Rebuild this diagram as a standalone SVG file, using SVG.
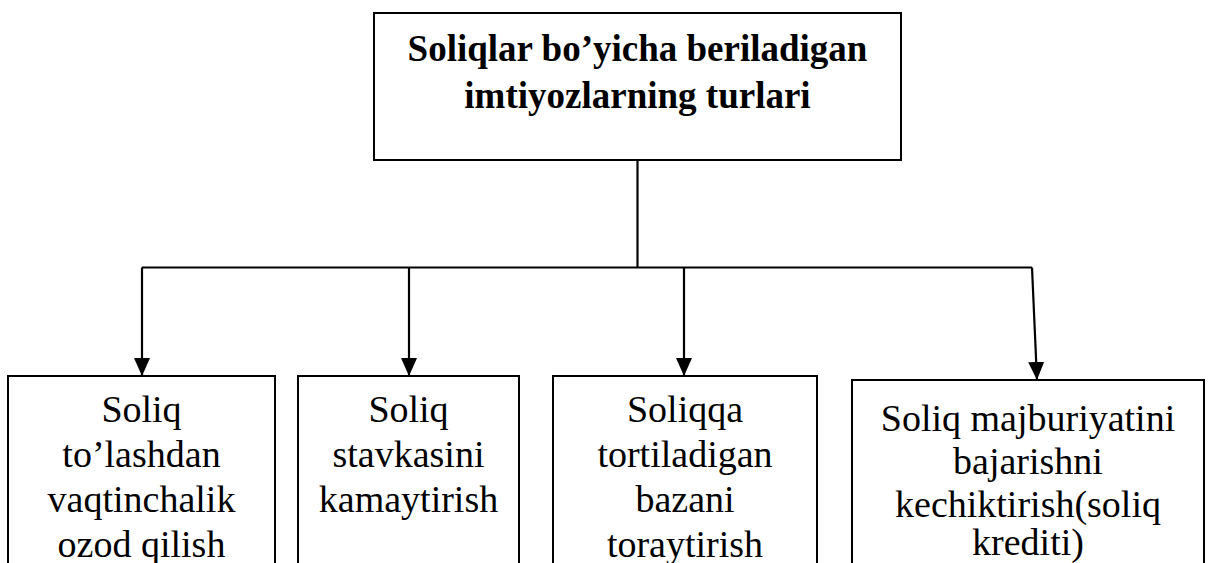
<svg xmlns="http://www.w3.org/2000/svg" width="1212" height="563" viewBox="0 0 1212 563">
<style>
.box{fill:#fff;stroke:#000;stroke-width:2}
.t{font-family:"Liberation Serif","Times New Roman",serif;font-size:38px;fill:#000;text-anchor:middle}
.tb{font-family:"Liberation Serif","Times New Roman",serif;font-size:37px;font-weight:bold;fill:#000;text-anchor:middle}
.ln{fill:none;stroke:#000;stroke-width:2.2}
</style>
<defs>
<marker id="arr" markerWidth="18" markerHeight="16" refX="18" refY="8" orient="auto" markerUnits="userSpaceOnUse" viewBox="0 0 18 16">
<path d="M0,0 L18,8 L0,16 Z" fill="#000"/>
</marker>
</defs>
<rect width="1212" height="563" fill="#fff"/>
<g id="connectors">
<path class="ln" d="M637.5,160 V267.5"/>
<path class="ln" d="M142,267.5 H1032"/>
<path class="ln" d="M142,267.5 V376" marker-end="url(#arr)"/>
<path class="ln" d="M409,267.5 V376" marker-end="url(#arr)"/>
<path class="ln" d="M684,267.5 V376" marker-end="url(#arr)"/>
<path class="ln" d="M1032,267.5 L1037,380" marker-end="url(#arr)"/>
</g>
<g id="root">
<rect class="box" x="374" y="13" width="527" height="147"/>
<text class="tb" x="637.5" y="61">Soliqlar bo’yicha beriladigan</text>
<text class="tb" x="637.5" y="108">imtiyozlarning turlari</text>
</g>
<g id="n1">
<rect class="box" x="8" y="376" width="267" height="230"/>
<text class="t" x="141.5" y="422">Soliq</text>
<text class="t" x="141.5" y="467">to’lashdan</text>
<text class="t" x="141.5" y="512">vaqtinchalik</text>
<text class="t" x="141.5" y="557">ozod qilish</text>
</g>
<g id="n2">
<rect class="box" x="298" y="376" width="221" height="230"/>
<text class="t" x="408.5" y="422">Soliq</text>
<text class="t" x="408.5" y="467">stavkasini</text>
<text class="t" x="408.5" y="512">kamaytirish</text>
</g>
<g id="n3">
<rect class="box" x="553" y="376" width="264" height="230"/>
<text class="t" x="685" y="422">Soliqqa</text>
<text class="t" x="685" y="467">tortiladigan</text>
<text class="t" x="685" y="512">bazani</text>
<text class="t" x="685" y="557">toraytirish</text>
</g>
<g id="n4">
<rect class="box" x="852" y="380" width="352" height="230"/>
<text class="t" x="1028" y="431">Soliq majburiyatini</text>
<text class="t" x="1028" y="474">bajarishni</text>
<text class="t" x="1028" y="517">kechiktirish(soliq</text>
<text class="t" x="1028" y="555">krediti)</text>
</g>
</svg>
